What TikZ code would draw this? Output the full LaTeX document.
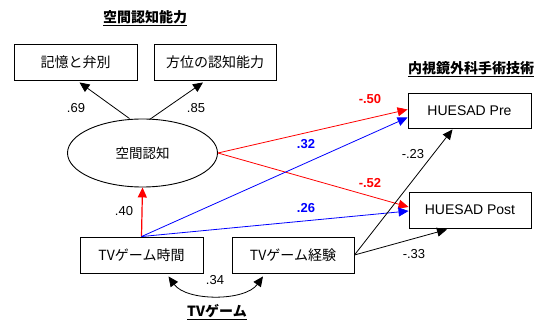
\documentclass[tikz,border=0pt]{standalone}
\usepackage{fontspec}
\setmainfont{Liberation Sans}
\newfontfamily\jp{Noto Sans CJK JP}
\usetikzlibrary{arrows.meta,shapes.geometric}
\begin{document}
\begin{tikzpicture}[x=1pt,y=-1pt,
  box/.style={draw,line width=0.9pt,minimum width=123pt,minimum height=36pt,inner sep=0pt,font=\jp\fontsize{14}{16}\selectfont},
  lat/.style={draw,line width=0.9pt,minimum width=123pt,minimum height=36pt,inner sep=0pt,font=\fontsize{14}{16}\selectfont},
  ttl/.style={font=\jp\bfseries\fontsize{14}{16}\selectfont,inner sep=1pt},
  num/.style={font=\fontsize{13}{15}\selectfont,inner sep=1pt},
  cnum/.style={font=\bfseries\fontsize{13}{15}\selectfont,inner sep=1pt},
  tip/.style={-{Triangle[length=10pt,width=9pt]}},
  ln/.style={line width=0.8pt}]
\useasboundingbox (0,0) rectangle (538,320);

% titles
\node[ttl] (t1) at (145,18) {\underline{空間認知能力}};
\node[ttl] (t2) at (471,69) {\underline{内視鏡外科手術技術}};
\node[ttl] (t3) at (217,312) {\underline{TVゲーム}};

% boxes
\node[box] (mem) at (75.5,62) {記憶と弁別};
\node[box,minimum width=122pt] (ori) at (215,62) {方位の認知能力};
\node[draw,ellipse,line width=0.9pt,minimum width=150pt,minimum height=68pt,inner sep=0pt,font=\jp\fontsize{13.5}{15}\selectfont] (cog) at (142.5,153) {空間認知};
\node[box] (time) at (141.5,255) {TVゲーム時間};
\node[box,minimum width=122pt] (exp) at (293,255) {TVゲーム経験};
\node[lat,minimum height=35pt] (pre) at (469.5,110.5) {HUESAD Pre};
\node[lat,minimum width=122pt] (post) at (470,210) {HUESAD Post};

% loadings
\draw[ln,tip] ([xshift=-13pt]cog.north) -- ([xshift=4pt,yshift=-2pt]mem.south);
\draw[ln,tip] ([xshift=7pt,yshift=-1pt]cog.north) -- ([xshift=-12pt,yshift=-2pt]ori.south);
\node[num] (l69) at (76,108) {.69};
\node[num] (l85) at (196,108) {.85};

% red paths
\draw[red,line width=1.2pt,tip] (time.north) -- (cog.south);
\node[num] (l40) at (124,211) {.40};
\draw[red,ln,tip] (cog.east) -- ([yshift=1pt]pre.west);
\draw[red,ln,tip] (cog.east) -- ([yshift=3pt]post.west);
\node[cnum,red] (l50) at (370,99) {-.50};
\node[cnum,red] (l52) at (370,183) {-.52};

% blue paths
\draw[blue,ln,tip] (time.north) -- ([yshift=-7pt]pre.west);
\draw[blue,ln,tip] (time.north) -- ([yshift=-1pt]post.west);
\node[cnum,blue] (l32) at (306,144) {.32};
\node[cnum,blue] (l26) at (306,208) {.26};

% black paths
\draw[ln,tip] (exp.east) -- ([xshift=-17pt,yshift=-1pt]pre.south);
\draw[ln,tip] (exp.east) -- ([xshift=-23pt,yshift=-1pt]post.south);
\node[num] (l23) at (413,154) {-.23};
\node[num] (l33) at (414,254) {-.33};

% covariance
\draw[ln,{Triangle[length=10pt,width=9pt]}-{Triangle[length=10pt,width=9pt]}]
  ([xshift=27pt,yshift=-3pt]time.south) .. controls +(18,25) and +(-18,25) .. ([xshift=-30pt,yshift=-3pt]exp.south);
\node[num] (l34) at (215,280) {.34};
\end{tikzpicture}
\end{document}
